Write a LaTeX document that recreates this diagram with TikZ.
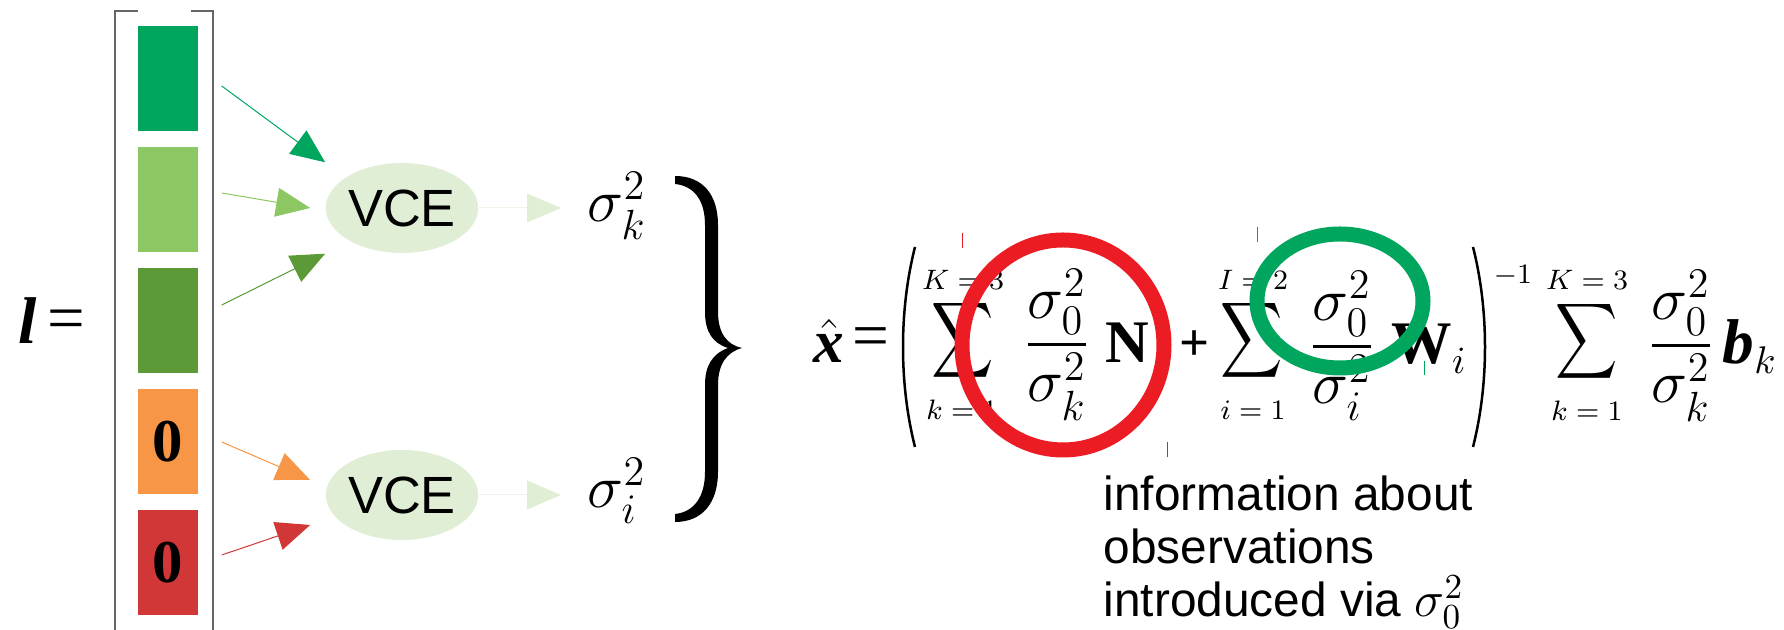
\documentclass[tikz,border=0pt]{standalone}
\usepackage{amsmath,amssymb}
\usepackage{graphicx}
\usepackage[no-math]{fontspec}
\setmainfont{Liberation Sans}
\newfontfamily\tnr{Liberation Serif}
\usepackage{tikz}
\usetikzlibrary{arrows.meta,shapes.geometric,positioning,calc}

\definecolor{obsA}{HTML}{00A65D}
\definecolor{obsB}{HTML}{8DC764}
\definecolor{obsC}{HTML}{5B9A36}
\definecolor{obsD}{HTML}{F79646}
\definecolor{obsE}{HTML}{D13737}
\definecolor{vceFill}{HTML}{E1EED6}
\definecolor{vceLine}{HTML}{EDF4E8}
\definecolor{ringR}{HTML}{EC1C24}
\definecolor{ringG}{HTML}{00A65D}
\definecolor{frame}{HTML}{666666}

\begin{document}
\begin{tikzpicture}[
  x=0.1mm, y=-0.1mm,
  every node/.style={inner sep=0pt},
  obs/.style={minimum width=6mm, minimum height=10.5mm, font=\fontsize{17.3}{20}\tnr\bfseries},
  vce/.style={ellipse, fill=vceFill, minimum width=15.1mm, minimum height=9mm, font=\fontsize{14.9}{16}\selectfont},
  arr/.style={-{Triangle[length=3.4mm,width=2.9mm]}, line width=0.1mm},
  fade/.style={-{Triangle[length=3.4mm,width=2.9mm,color=vceFill]}, draw=vceLine, line width=0.1mm, shorten >=2.6mm},
  big/.style={font=\fontsize{18.5}{20}\selectfont},
  bld/.style={font=\fontsize{17.2}{19}\tnr\bfseries},
  lim/.style={font=\fontsize{8.3}{10}\selectfont},
  sig/.style={font=\fontsize{15}{18}\selectfont},
  ring/.style={line width=1.5mm},
  tick/.style={line width=0.1mm},
]
\useasboundingbox (0,0) rectangle (1784,630);

% observation vector
\node[anchor=base, font=\fontsize{18.8}{20}\tnr\bfseries\itshape] (lv) at (28,344) {l};
\node[font=\fontsize{19}{20}\tnr] (leq) at (66,325) {=};
\draw[frame, line width=0.15mm] (138,11) -- (115,11) -- (115,630);
\draw[frame, line width=0.15mm] (191,11) -- (213,11) -- (213,630);
\node[obs, fill=obsA] (o1) at (168,79) {};
\node[obs, fill=obsB] (o2) at (168,200) {};
\node[obs, fill=obsC] (o3) at (168,321) {};
\node[obs, fill=obsD] (o4) at (168,442) {0};
\node[obs, fill=obsE] (o5) at (168,563) {0};

% variance component estimation
\node[vce] (v1) at (402,208) {VCE};
\node[vce] (v2) at (402,495) {VCE};
\draw[arr, obsA] ([shift={(23,7)}]o1.east) -- (v1.west |- v1.north);
\draw[arr, obsB] ([shift={(23,-7)}]o2.east) -- ([xshift=-1.5mm]v1.west);
\draw[arr, obsC] ([shift={(23,-16)}]o3.east) -- (v1.west |- v1.south);
\draw[arr, obsD] ([xshift=2.3mm]o4.east) -- ([shift={(-15,-15)}]v2.west);
\draw[arr, obsE] ([shift={(23,-8)}]o5.east) -- ([shift={(-15,30)}]v2.west);

\node[anchor=base west, font=\fontsize{18}{20}\selectfont] (sk) at (587,222) {$\sigma_k^2$};
\node[anchor=base west, font=\fontsize{18}{20}\selectfont] (si) at (587,508) {$\sigma_i^2$};
\draw[fade] (v1.east) -- (v1.east -| sk.west);
\draw[fade] (v2.east) -- (v2.east -| si.west);

% brace
\fill (675,176) .. controls (703,176) and (718,195) .. (718,225)
  -- (718,312) .. controls (718,333) and (727,345) .. (742,348)
  .. controls (727,352) and (718,364) .. (718,385)
  -- (718,472) .. controls (718,502) and (703,522) .. (675,522)
  -- (675,514) .. controls (694,512) and (705,497) .. (705,472)
  -- (705,385) .. controls (705,366) and (712,354) .. (728,348)
  .. controls (712,343) and (705,331) .. (705,312)
  -- (705,225) .. controls (705,200) and (694,186) .. (675,184) -- cycle;

% estimator
\node[anchor=base west, font=\fontsize{17.4}{19}\selectfont] (xh) at (813,363) {$\hat{\hbox{\tnr\bfseries\itshape x}}$};
\node[font=\fontsize{18.6}{20}\tnr] (xeq) at (871,343) {=};
\draw[line width=0.25mm] (915,247) .. controls (899,310) and (899,384) .. (915,447);
\node[sig] (s1) at (963,340) {\scalebox{0.82}[1]{$\displaystyle\sum$}};
\node[lim] (s1t) at (963,280) {$K=3$};
\node[lim] (s1b) at (962,410) {$k=1$};
\node[big] (f1) at (1057,345) {$\dfrac{\sigma_0^2}{\sigma_k^2}$};
\node[bld, anchor=base west] (nn) at (1105,363) {N};
\node[font=\fontsize{15}{17}\tnr\bfseries] (pl) at (1195,346) {+};
\node[sig] (s2) at (1252,340) {\scalebox{0.82}[1]{$\displaystyle\sum$}};
\node[lim] (s2t) at (1253,280) {$I=2$};
\node[lim] (s2b) at (1253,410) {$i=1$};
\node[big] (f2) at (1342,346) {$\dfrac{\sigma_0^2}{\sigma_i^2}$};
\node[bld, anchor=base west] (ww) at (1391,364) {W\fontsize{16}{18}\selectfont$_i$};
\draw[line width=0.25mm] (1473,247) .. controls (1489,310) and (1489,384) .. (1473,447);
\node (inv) at (1513,276) {\fontsize{8.5}{10}\selectfont$-1$};
\node[sig] (s3) at (1587,341) {\scalebox{0.82}[1]{$\displaystyle\sum$}};
\node[lim] (s3t) at (1587,280) {$K=3$};
\node[lim] (s3b) at (1587,411) {$k=1$};
\node[big] (f3) at (1681,346) {$\dfrac{\sigma_0^2}{\sigma_k^2}$};
\node[anchor=base west, font=\fontsize{18}{20}\tnr\bfseries\itshape] (bk) at (1722,364) {b\fontsize{16}{18}\selectfont$_k$};

% highlights
\draw[ring, ringR] (1063,345) ellipse [x radius=101, y radius=105];
\draw[ring, ringG] (1340,301) ellipse [x radius=83, y radius=67];
\draw[tick, ringR] (962,233) -- (962,248);
\draw[tick, ringR] (1167,442) -- (1167,457);
\draw[tick, ringG] (1257,227) -- (1257,242);
\draw[tick, ringG] (1424,361) -- (1424,375);

\node[anchor=north west, align=left, font=\fontsize{13.6}{15.1}\selectfont] (info) at (1103,475)
  {information about\\observations\\introduced via $\sigma_0^2$};
\end{tikzpicture}
\end{document}
